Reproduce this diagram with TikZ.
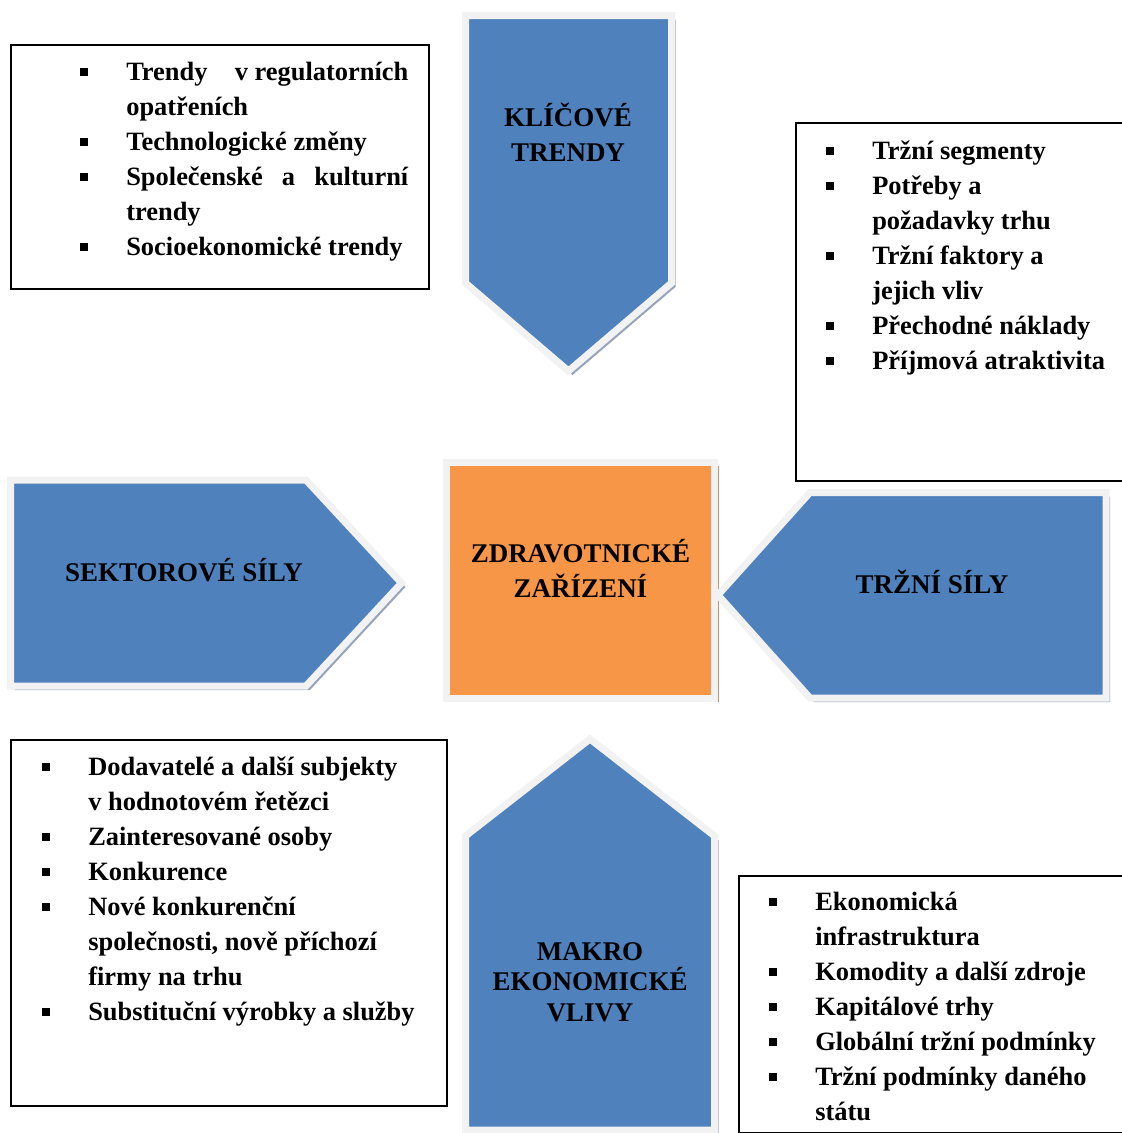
\documentclass[tikz,border=0pt]{standalone}
\usepackage{fontspec}
\setmainfont{Liberation Serif}
\usepackage{tikz}
\setlength{\parskip}{0pt}
\definecolor{blockblue}{RGB}{79,129,189}
\definecolor{blockorange}{RGB}{247,150,70}
\definecolor{rimgray}{RGB}{242,242,242}
\definecolor{shadeblue}{RGB}{150,163,186}
\definecolor{shadebrown}{RGB}{196,150,112}
\newcommand{\bsq}{\rule[0.18em]{0.3em}{0.3em}}
\newcommand{\litem}[1]{\par\noindent\hangindent=1.15cm\hangafter=1\strut\makebox[1.15cm][l]{\bsq}#1\par}
\tikzset{
  block/.style={fill=blockblue, draw=rimgray, line width=0.175cm, line join=miter},
  blocklabel/.style={font=\fontsize{19.2}{24.9}\selectfont\bfseries, align=center, inner sep=0pt},
  framebox/.style={draw=black, line width=0.05cm, anchor=north west, inner sep=0pt},
  listtext/.style={anchor=north west, inner sep=0pt, align=justify, font=\fontsize{18.8}{24.9}\selectfont\bfseries}
}

\begin{document}
\begin{tikzpicture}[x=0.025cm, y=-0.025cm]
      \useasboundingbox (0,0) rectangle (1122,1133);

      \fill[shadeblue, shift={(4,4)}] (465.5,15.5) -- (671.5,15.5) -- (671.5,283) -- (568.5,371) -- (465.5,283) -- cycle;
      \fill[shadeblue, shift={(4,4)}] (10.5,480) -- (306,480) -- (401.5,583) -- (306,686) -- (10.5,686) -- cycle;
      \fill[shadebrown, shift={(4,4)}] (446.5,462) rectangle (714.5,698);
      \fill[shadeblue, shift={(4,4)}] (1106,492.5) -- (810,492.5) -- (718,595) -- (810,698) -- (1106,698) -- cycle;
      \fill[shadeblue, shift={(4,4)}] (590,739) -- (714.5,836) -- (714.5,1130) -- (465.5,1130) -- (465.5,836) -- cycle;

      \draw[block] (465.5,15.5) -- (671.5,15.5) -- (671.5,283) -- (568.5,371) -- (465.5,283) -- cycle;
      \draw[block] (10.5,480) -- (306,480) -- (401.5,583) -- (306,686) -- (10.5,686) -- cycle;
      \draw[block, fill=blockorange] (446.5,462) rectangle (714.5,698);
      \draw[block] (1106,492.5) -- (810,492.5) -- (718,595) -- (810,698) -- (1106,698) -- cycle;
      \draw[block] (590,739) -- (714.5,836) -- (714.5,1130) -- (465.5,1130) -- (465.5,836) -- cycle;

      \node[blocklabel] (trendlabel) at (568,132.5) {KLÍČOVÉ\\TRENDY};
      \node[blocklabel] (sectorlabel) at (184,570) {SEKTOROVÉ SÍLY};
      \node[blocklabel] (carelabel) at (580.5,568.5) {ZDRAVOTNICKÉ\\ZAŘÍZENÍ};
      \node[blocklabel] (marketlabel) at (932,582) {TRŽNÍ SÍLY};
      \node[blocklabel, font=\fontsize{19.2}{21.7}\selectfont\bfseries] (macrolabel) at (590,982) {MAKRO\\EKONOMICKÉ\\VLIVY};

      \node[framebox, minimum width=10.45cm, minimum height=6.1cm] (trendbox) at (10,44) {};
      \node[framebox, minimum width=8.5cm, minimum height=8.95cm] (marketbox) at (795,122) {};
      \node[framebox, minimum width=10.9cm, minimum height=9.17cm] (sectorbox) at (10,738.5) {};
      \node[framebox, minimum width=9.93cm, minimum height=6.43cm] (macrobox) at (738,875) {};

      \node[listtext, text width=8.2cm] (trendlist) at (80,45.5) {\litem{Trendy\hfill v regulatorních\linebreak opatřeních}\litem{Technologické změny}\litem{Společenské a kulturní\linebreak trendy}\litem{Socioekonomické trendy}};
      \node[listtext, text width=7.22cm] (marketlist) at (826,124.5) {\litem{Tržní segmenty}\litem{Potřeby a\newline požadavky trhu}\litem{Tržní faktory a\newline jejich vliv}\litem{Přechodné náklady}\litem{Příjmová atraktivita}};
      \node[listtext, text width=9.45cm] (sectorlist) at (42,740.5) {\litem{Dodavatelé a další subjekty\newline v hodnotovém řetězci}\litem{Zainteresované osoby}\litem{Konkurence}\litem{Nové konkurenční\newline společnosti, nově příchozí\newline firmy na trhu}\litem{Substituční výrobky a služby}};
      \begin{scope}
        \clip (740,877) rectangle (1122,1121);
        \node[listtext, text width=8.52cm] (macrolist) at (769,875.5) {\litem{Ekonomická\newline infrastruktura}\litem{Komodity a další zdroje}\litem{Kapitálové trhy}\litem{Globální tržní podmínky}\litem{Tržní podmínky daného\newline státu}};
      \end{scope}
    \end{tikzpicture}
\end{document}
